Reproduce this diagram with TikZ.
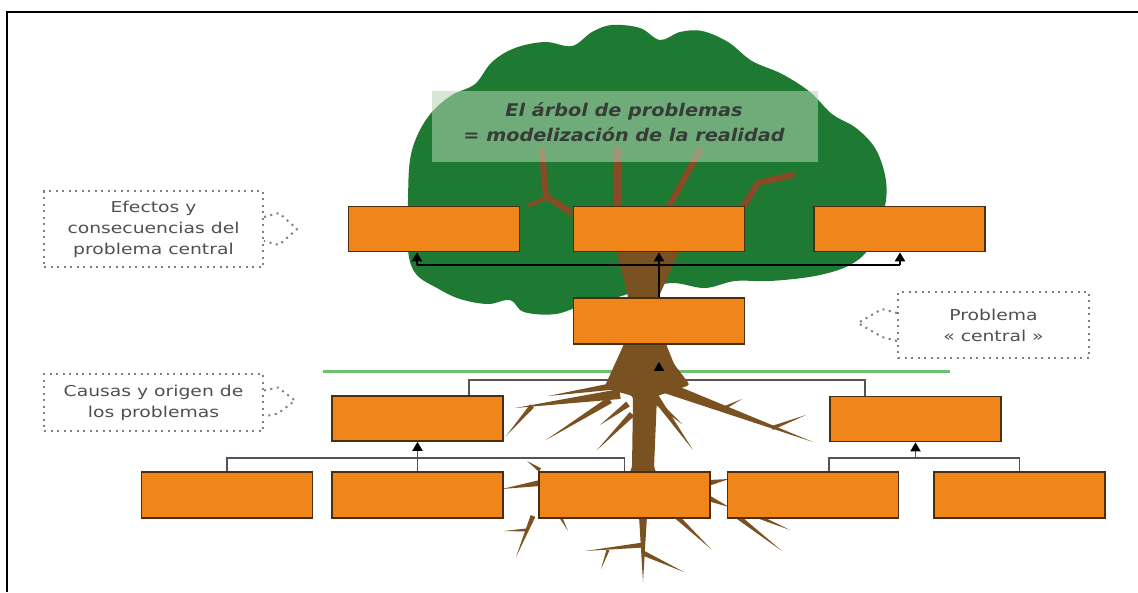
\documentclass[tikz,border=0pt]{standalone}
\usepackage{fontspec}
\usetikzlibrary{arrows.meta,calc}
\newfontfamily\cfont[FakeStretch=1.25]{DejaVu Sans}
\newfontfamily\tfont[FakeStretch=1.1]{DejaVu Sans}
\definecolor{leaf}{HTML}{1E7A33}
\definecolor{bark}{HTML}{7A5222}
\definecolor{twig}{HTML}{8A4A26}
\definecolor{orng}{HTML}{F0861A}
\definecolor{obrd}{HTML}{4A2E0E}
\definecolor{glin}{HTML}{6CC070}
\definecolor{clin}{HTML}{58505E}
\definecolor{dotc}{HTML}{808080}
\definecolor{txtc}{HTML}{505050}
\definecolor{ttlc}{HTML}{363C36}
\definecolor{tbox}{HTML}{B5D5B5}
\newcommand\rootline[3]{\fill[bark] ($#1!#3!90:#2$) -- ($#1!#3!-90:#2$) -- #2 -- cycle;}
\pgfdeclarelayer{bg}
\pgfsetlayers{bg,main}
\begin{document}
\begin{tikzpicture}[x=1pt,y=-1pt,
  obox/.style={draw=obrd,line width=1.6pt,fill=orng,minimum width=171pt,minimum height=45pt,inner sep=0pt},
  callout/.style={draw=dotc,line width=2pt,dash pattern=on 2pt off 4.5pt,text=txtc,font=\cfont\fontsize{15}{21}\selectfont,align=center,inner sep=0pt},
  chev/.style={draw=dotc,line width=2pt,dash pattern=on 2pt off 4.5pt,line join=round},
  tline/.style={draw=black,line width=2pt},
  cline/.style={draw=clin,line width=1.8pt},
  arr/.style={-{Triangle[width=10pt,length=9pt,color=black]}},
  twigline/.style={draw=twig,line cap=round,line join=round}]
\useasboundingbox (0,0) rectangle (1138,592);
\begin{pgfonlayer}{bg}
\fill[white] (0,0) rectangle (1138,592);
\end{pgfonlayer}
% frame
\draw[line width=2.5pt] (7,592) -- (7,12) -- (1138,12);
% canopy
\fill[leaf] plot[smooth cycle,tension=0.6] coordinates {
  (432,112) (452,95) (475,84) (492,62) (515,48) (545,42) (572,46) (592,32)
  (612,25) (640,28) (660,40) (680,32) (702,31) (728,42) (752,61) (782,74)
  (810,92) (832,114) (856,128) (875,148) (885,175) (886,200) (879,226)
  (868,250) (848,266) (815,276) (770,281) (735,281) (705,288) (672,283)
  (640,290) (618,297) (588,303) (556,314) (524,312) (510,300) (488,304)
  (460,299) (437,288) (416,274) (408,250) (408,200) (410,160) (418,134)};
% branches
\draw[twigline,line width=7pt] (617,212) -- (617,150);
\draw[twigline,line width=6pt] (570,212) -- (546,196) -- (542,150);
\draw[twigline,line width=4pt] (546,198) -- (530,205);
\draw[twigline,line width=6pt] (666,212) -- (700,150);
\draw[twigline,line width=6pt] (740,212) -- (758,183) -- (792,175);
% title
\node[fill=tbox,fill opacity=0.55,minimum width=386pt,minimum height=71pt,inner sep=0pt] (titlebox) at (625,126) {};
\node[text=ttlc,font=\tfont\bfseries\itshape\fontsize{17.5}{25}\selectfont,align=center] (title) at (624,122) {El árbol de problemas\\= modelización de la realidad};
% separator
\begin{pgfonlayer}{bg}
\draw[glin,line width=3pt] (323,371) -- (950,371);
\end{pgfonlayer}
% trunk
\fill[bark,rounded corners=3pt] (616,250) -- (680,250) -- (659,296) -- (666,344) -- (674,364) -- (690,385) -- (657,396) -- (654,468) -- (659,477) -- (627,477) -- (632,468) -- (633,396) -- (604,388) -- (614,366) -- (624,344) -- (628,296) -- cycle;
% roots
\rootline{(615,386)}{(548,396)}{3.5pt}
\rootline{(620,394)}{(515,408)}{5pt}
\rootline{(532,406)}{(506,436)}{2.5pt}
\rootline{(610,400)}{(546,440)}{3.5pt}
\rootline{(628,404)}{(600,425)}{3pt}
\rootline{(632,414)}{(597,450)}{3pt}
\rootline{(662,386)}{(813,442)}{6pt}
\rootline{(720,410)}{(742,399)}{2pt}
\rootline{(772,428)}{(806,415)}{2pt}
\rootline{(656,398)}{(693,450)}{3.5pt}
\rootline{(654,400)}{(682,424)}{3pt}
\rootline{(540,483)}{(502,489)}{3pt}
\rootline{(540,470)}{(527,461)}{2pt}
\rootline{(708,483)}{(729,479)}{3pt}
\rootline{(708,498)}{(729,507)}{3pt}
\rootline{(643,516)}{(643,582)}{4pt}
\rootline{(643,545)}{(585,551)}{2.5pt}
\rootline{(608,550)}{(601,569)}{1.5pt}
\rootline{(643,553)}{(684,572)}{2.5pt}
\rootline{(676,516)}{(711,549)}{2.5pt}
\rootline{(737,516)}{(782,551)}{2.5pt}
\rootline{(757,516)}{(790,530)}{2pt}
\rootline{(533,516)}{(516,557)}{2.5pt}
\rootline{(526,530)}{(504,531)}{1.5pt}
\rootline{(560,516)}{(568,531)}{1.5pt}
% boxes
\node[obox] (T1) at (434,229) {};
\node[obox] (T2) at (659,229) {};
\node[obox] (T3) at (899.5,229) {};
\node[obox,minimum height=46pt] (C) at (659,321) {};
\node[obox] (L) at (417.5,418.5) {};
\node[obox] (R) at (915.5,419) {};
\node[obox,minimum height=46pt] (B1) at (227,495) {};
\node[obox,minimum height=46pt] (B2) at (417.5,495) {};
\node[obox,minimum height=46pt] (B3) at (624.5,495) {};
\node[obox,minimum height=46pt] (B4) at (813,495) {};
\node[obox,minimum height=46pt] (B5) at (1019.5,495) {};
% connectors
\coordinate (t1f) at (417,265);
\coordinate (t3f) at (900,265);
\draw[tline,arr] (C.north) -- (T2.south);
\draw[tline] (t1f) -- (t3f);
\draw[tline,arr] (t1f) -- (t1f |- T1.south);
\draw[tline,arr] (t3f) -- (t3f |- T3.south);
\coordinate (m1) at (469,380);
\coordinate (m2) at (865,380);
\begin{pgfonlayer}{bg}
\draw[cline] (m1 |- L.north) -- (m1) -- (m2) -- (m2 |- R.north);
\end{pgfonlayer}
\draw[cline,arr,shorten <=8pt,shorten >=17pt] (C.south |- m1) -- (C.south);
\coordinate (yL) at (0,458);
\draw[cline] (B1.north) -- (B1.north |- yL) -- (B3.north |- yL) -- (B3.north);
\draw[cline,arr] (B2.north) -- (L.south);
\draw[cline] (R.west |- B4.north) -- (R.west |- yL) -- (B5.north |- yL) -- (B5.north);
\draw[cline,arr] (R.south |- yL) -- (R.south);
% callouts
\node[callout,minimum width=219pt,minimum height=76pt] (E) at (153.5,229) {Efectos y\\consecuencias del\\problema central};
\node[callout,minimum width=219pt,minimum height=57pt] (K) at (153.5,402.5) {Causas y origen de\\los problemas};
\node[callout,minimum width=191pt,minimum height=66pt] (P) at (993.5,325) {Problema\\« central »};
\draw[chev] ($(E.east)+(0,-12)$) -- ++(15,-4) -- ++(18,16) -- ++(-18,16) -- ++(-15,-4);
\draw[chev] ($(K.east)+(0,-12)$) -- ++(14,-3) -- ++(17,13) -- ++(-17,13) -- ++(-14,3);
\draw[chev] ($(P.west)+(0,-12)$) -- ++(-15,-4) -- ++(-24,14) -- ++(24,14) -- ++(15,4);
\end{tikzpicture}
\end{document}
